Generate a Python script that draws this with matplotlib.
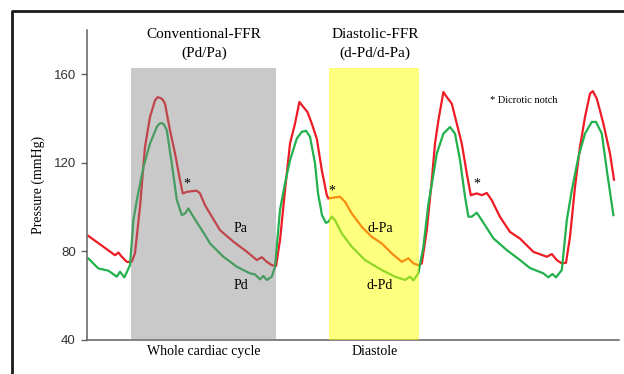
import matplotlib
matplotlib.use("Agg")
from matplotlib import pyplot as plt
from matplotlib.lines import Line2D

pa_time = [0.007, 0.14, 0.157, 0.174, 0.199, 0.224, 0.24, 0.265, 0.29, 0.315, 0.34, 0.352,
           0.365, 0.378, 0.39, 0.415, 0.44, 0.465, 0.479, 0.499, 0.524, 0.549, 0.565, 0.59,
           0.615, 0.665, 0.732, 0.799, 0.849, 0.874, 0.899, 0.924, 0.945, 0.965, 0.99, 1.015,
           1.04, 1.062, 1.082, 1.102, 1.124, 1.149, 1.174, 1.199, 1.207, 1.24, 1.265, 1.29,
           1.324, 1.374, 1.424, 1.474, 1.524, 1.574, 1.607, 1.632, 1.657, 1.674, 1.699, 1.724,
           1.74, 1.757, 1.782, 1.799, 1.824, 1.849, 1.874, 1.899, 1.919, 1.949, 1.974, 1.999,
           2.024, 2.065, 2.115, 2.165, 2.232, 2.299, 2.324, 2.349, 2.374, 2.395, 2.415, 2.44,
           2.465, 2.49, 2.515, 2.529, 2.549, 2.582, 2.615, 2.635]
pa_value = [87.0, 78.3, 79.5, 77.6, 75.3, 75.3, 79.2, 100.1, 127.2, 140.7, 148.2, 149.6,
            149.4, 148.6, 146.7, 134.7, 124.3, 112.2, 106.2, 106.9, 107.2, 107.4, 106.2, 100.9,
            97.1, 89.6, 84.4, 79.9, 76.1, 77.4, 75.3, 73.8, 73.4, 85.1, 107.6, 128.7,
            137.7, 147.5, 145.2, 143.0, 137.7, 130.9, 116.7, 105.4, 103.9, 104.4, 104.7, 102.4,
            97.1, 91.1, 86.6, 83.6, 79.1, 75.3, 76.9, 74.6, 73.8, 74.6, 89.6, 112.2,
            128.7, 139.2, 152.0, 149.7, 146.7, 137.7, 128.7, 115.1, 105.4, 106.2, 105.4, 106.4,
            103.1, 95.6, 88.8, 85.8, 79.8, 77.6, 78.8, 76.1, 74.6, 74.9, 86.6, 109.1,
            127.2, 140.7, 151.3, 152.4, 149.0, 137.7, 124.2, 112.4]

pd_time = [0.007, 0.057, 0.107, 0.149, 0.165, 0.187, 0.215, 0.232, 0.249, 0.282, 0.315, 0.349,
           0.362, 0.374, 0.387, 0.399, 0.424, 0.449, 0.474, 0.49, 0.507, 0.532, 0.59, 0.615,
           0.682, 0.749, 0.815, 0.84, 0.865, 0.882, 0.899, 0.924, 0.94, 0.965, 0.99, 1.015,
           1.049, 1.074, 1.095, 1.115, 1.14, 1.155, 1.175, 1.195, 1.207, 1.224, 1.24, 1.274,
           1.324, 1.39, 1.474, 1.54, 1.59, 1.615, 1.632, 1.657, 1.682, 1.707, 1.725, 1.749,
           1.782, 1.815, 1.84, 1.865, 1.89, 1.907, 1.924, 1.949, 1.974, 2.032, 2.099, 2.165,
           2.215, 2.282, 2.307, 2.327, 2.345, 2.374, 2.399, 2.424, 2.457, 2.49, 2.524, 2.545,
           2.574, 2.599, 2.632]
pd_value = [76.8, 72.3, 71.3, 68.6, 70.8, 68.3, 73.8, 94.1, 103.1, 118.1, 128.7, 136.2,
            137.7, 138.0, 137.0, 134.7, 119.6, 103.3, 96.4, 97.1, 99.4, 95.6, 87.4, 83.6,
            77.6, 73.1, 70.1, 69.6, 67.4, 68.9, 67.1, 68.6, 73.1, 98.8, 110.7, 121.2,
            131.0, 134.0, 134.5, 131.8, 119.8, 106.3, 96.4, 92.9, 93.4, 95.7, 94.1, 88.1,
            82.1, 76.1, 71.6, 68.6, 67.1, 68.6, 66.9, 70.2, 82.1, 101.6, 110.8, 124.2,
            133.2, 136.2, 133.2, 121.3, 104.7, 95.7, 95.7, 97.5, 94.1, 85.9, 80.6, 76.1,
            72.5, 70.1, 68.3, 69.8, 68.3, 71.6, 94.1, 107.6, 122.7, 133.2, 138.5, 138.5,
            133.2, 116.7, 96.4]

whole_cycle = (0.22, 0.945)
diastole = (1.21, 1.66)
shade_top = 163
notch_marks = [(0.5, 110.3), (1.225, 107.2), (1.95, 110.3)]

RED = '#ed1c24'
GREEN = '#22b14c'
SERIF = 'Liberation Serif'


def main():
    fig = plt.figure(figsize=(6.24, 3.74), dpi=100)
    ax = fig.add_axes([87 / 624, 34 / 374, 532 / 624, 310 / 374])

    ax.plot(pa_time, pa_value, color=RED, lw=1.6, solid_joinstyle='round', zorder=2)
    ax.plot(pd_time, pd_value, color=GREEN, lw=1.6, solid_joinstyle='round', zorder=2)

    # shaded windows sit on top of the traces, so the colours show through tinted
    ax.fill_between(whole_cycle, 40, shade_top, color='#808080', alpha=0.42, lw=0, zorder=3)
    ax.fill_between(diastole, 40, shade_top, color='#ffff00', alpha=0.5, lw=0, zorder=3)

    for x, y in notch_marks:
        ax.text(x, y, '*', ha='center', va='center', fontsize=10, family=SERIF, zorder=4)

    ax.text(0.77, 90.5, 'Pa', ha='center', va='center', fontsize=10, family=SERIF, zorder=4)
    ax.text(0.77, 64.4, 'Pd', ha='center', va='center', fontsize=10, family=SERIF, zorder=4)
    ax.text(1.465, 90.5, 'd-Pa', ha='center', va='center', fontsize=10, family=SERIF, zorder=4)
    ax.text(1.465, 64.4, 'd-Pd', ha='center', va='center', fontsize=10, family=SERIF, zorder=4)

    ax.text(0.585, 178, 'Conventional-FFR', ha='center', va='center', fontsize=11,
            family=SERIF, clip_on=False)
    ax.text(0.585, 169.4, '(Pd/Pa)', ha='center', va='center', fontsize=11, family=SERIF,
            clip_on=False)
    ax.text(1.44, 178, 'Diastolic-FFR', ha='center', va='center', fontsize=11,
            family=SERIF, clip_on=False)
    ax.text(1.44, 169.4, '(d-Pd/d-Pa)', ha='center', va='center', fontsize=11,
            family=SERIF, clip_on=False)
    ax.text(0.585, 34.6, 'Whole cardiac cycle', ha='center', va='center', fontsize=10,
            family=SERIF, clip_on=False)
    ax.text(1.44, 34.6, 'Diastole', ha='center', va='center', fontsize=10,
            family=SERIF, clip_on=False)
    ax.text(2.015, 148.2, '* Dicrotic notch', ha='left', va='center', fontsize=7.5,
            family=SERIF)

    ax.set_xlim(0, 2.66)
    ax.set_ylim(40, 180)
    ax.set_yticks([40, 80, 120, 160])
    ax.set_xticks([])
    ax.tick_params(axis='y', length=4, width=1, color='#606060', labelsize=9.5, pad=4)
    for lab in ax.get_yticklabels():
        lab.set_family('Liberation Sans')
        lab.set_color('#333333')
    ax.set_ylabel('Pressure (mmHg)', family=SERIF, fontsize=10, labelpad=6)
    for side in ['top', 'right']:
        ax.spines[side].set_visible(False)
    for side in ['left', 'bottom']:
        ax.spines[side].set_color('#606060')
        ax.spines[side].set_linewidth(1.1)

    # black frame of the original figure panel (runs off the right and bottom edges)
    x0, y0 = 12 / 624, 1 - 11 / 374
    fig.add_artist(Line2D([x0, x0, 1.05], [-0.05, y0, y0], color='#1a1a1a', lw=2,
                          transform=fig.transFigure))

    fig.savefig('out.png', dpi=100)


if __name__ == "__main__":
    main()
